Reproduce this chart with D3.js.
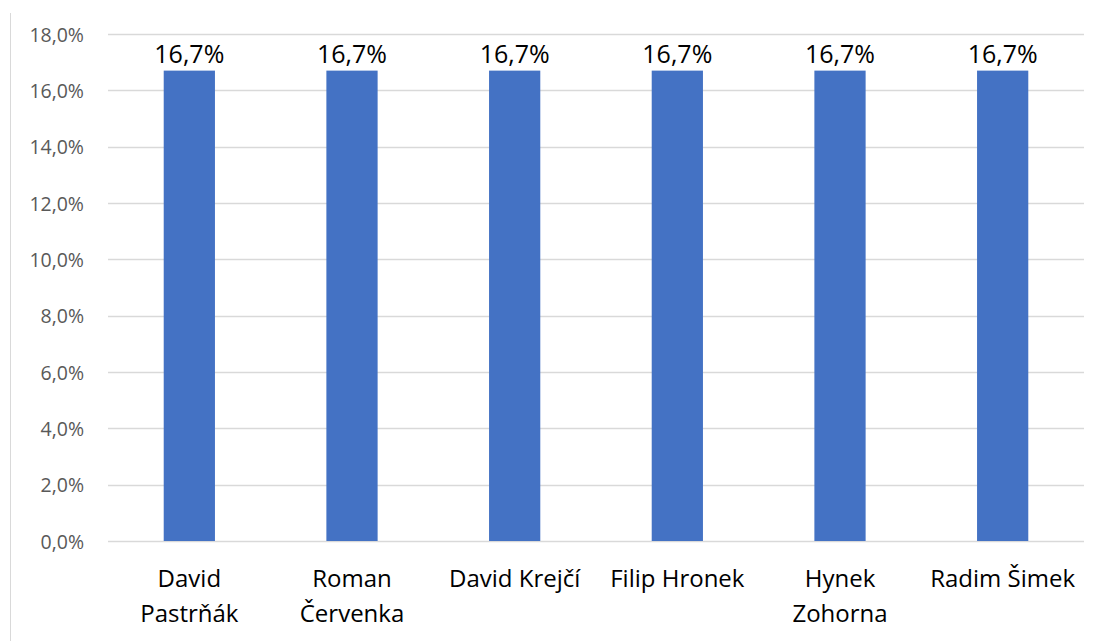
<!DOCTYPE html>
<html><head><meta charset="utf-8">
<script src="https://cdn.jsdelivr.net/npm/d3@7"></script>
<style>body{margin:0;background:#fff}svg{display:block}</style>
</head><body>
<script>
const categories = ["David Pastrňák","Roman Červenka","David Krejčí","Filip Hronek","Hynek Zohorna","Radim Šimek"];
const values = [16.7,16.7,16.7,16.7,16.7,16.7];
const yTicks = [0,2,4,6,8,10,12,14,16,18];

const W=1098,H=641;
const m={left:108,right:14,top:34,bottom:100};
const FONT="'Open Sans', 'Noto Sans', sans-serif";
const svg=d3.select("body").append("svg").attr("width",W).attr("height",H);

svg.append("line").attr("x1",10.5).attr("x2",10.5).attr("y1",13).attr("y2",H).attr("stroke","#d9d9d9");

const x=d3.scaleBand().domain(categories).range([m.left,W-m.right]).padding(0);
const y=d3.scaleLinear().domain([0,18]).range([H-m.bottom,m.top]);
const fmt=v=>v.toFixed(1).replace(".",",")+"%";

const g=svg.append("g");
g.selectAll("line.grid").data(yTicks).join("line").attr("class","grid")
 .attr("x1",m.left).attr("x2",W-m.right).attr("y1",d=>Math.round(y(d))+0.5).attr("y2",d=>Math.round(y(d))+0.5)
 .attr("stroke","#d9d9d9").attr("stroke-width",1.3);

const yAxis=d3.axisLeft(y).tickValues(yTicks).tickFormat(fmt).tickSize(0).tickPadding(24);
const ya=svg.append("g").attr("transform",`translate(${m.left},0)`).call(yAxis);
ya.select(".domain").remove();
ya.selectAll("text").attr("font-family",FONT).attr("font-size",19.5).attr("fill","#595959").attr("dy","0.36em");

const bw=x.bandwidth()*0.315;
g.selectAll("rect").data(values).join("rect")
 .attr("x",(d,i)=>x(categories[i])+x.bandwidth()/2-bw/2).attr("width",bw)
 .attr("y",d=>y(d)).attr("height",d=>y(0)-y(d)).attr("fill","#4472c4");

g.selectAll("text.lbl").data(values).join("text").attr("class","lbl")
 .attr("x",(d,i)=>x(categories[i])+x.bandwidth()/2).attr("y",d=>y(d)-8)
 .attr("text-anchor","middle").attr("font-family",FONT).attr("font-size",25).attr("fill","#000")
 .text(d=>fmt(d));

const xa=svg.append("g");
const maxW=x.bandwidth()-4;
categories.forEach((c,i)=>{
  const t=xa.append("text").attr("x",x(c)+x.bandwidth()/2).attr("y",587)
   .attr("text-anchor","middle").attr("font-family",FONT).attr("font-size",24).attr("fill","#000");
  const words=c.split(" ");
  const ts=t.append("tspan").attr("x",x(c)+x.bandwidth()/2).text(c);
  if(ts.node().getComputedTextLength()>maxW && words.length>1){
    ts.text(words[0]);
    t.append("tspan").attr("x",x(c)+x.bandwidth()/2).attr("dy",35).text(words.slice(1).join(" "));
  }
});
</script>
</body></html>
